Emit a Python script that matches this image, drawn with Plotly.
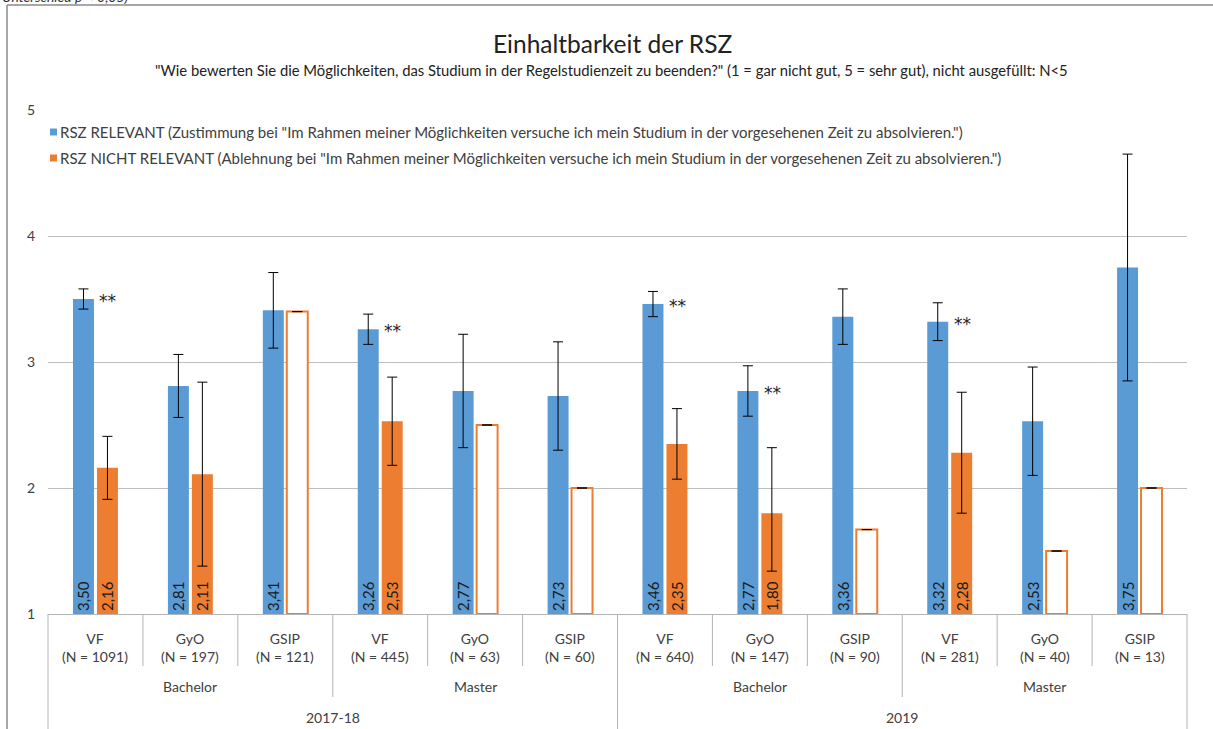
import plotly.graph_objects as go

# ---------------- data ----------------
categories = ["VF", "GyO", "GSIP"] * 4
n_labels = ["(N = 1091)", "(N = 197)", "(N = 121)", "(N = 445)", "(N = 63)", "(N = 60)",
            "(N = 640)", "(N = 147)", "(N = 90)", "(N = 281)", "(N = 40)", "(N = 13)"]
levels = ["Bachelor", "Master", "Bachelor", "Master"]
years = ["2017-18", "2019"]

relevant = [3.50, 2.81, 3.41, 3.26, 2.77, 2.73, 3.46, 2.77, 3.36, 3.32, 2.53, 3.75]
relevant_err = [0.08, 0.25, 0.30, 0.12, 0.45, 0.43, 0.10, 0.20, 0.22, 0.15, 0.43, 0.90]
not_relevant = [2.16, 2.11, 3.40, 2.53, 2.50, 2.00, 2.35, 1.80, 1.67, 2.28, 1.50, 2.00]
not_relevant_err_plus = [0.25, 0.73, 0, 0.35, 0, 0, 0.28, 0.52, 0, 0.48, 0, 0]
not_relevant_err_minus = [0.25, 0.73, 0, 0.35, 0, 0, 0.28, 0.46, 0, 0.48, 0, 0]
not_filled = [False, False, True, False, True, True, False, False, True, False, True, True]
significance = ["**", "", "", "**", "", "", "**", "**", "", "**", "", ""]

series_names = [
    'RSZ RELEVANT (Zustimmung bei "Im Rahmen meiner Möglichkeiten versuche ich mein Studium in der vorgesehenen Zeit zu absolvieren.")',
    'RSZ NICHT RELEVANT (Ablehnung bei "Im Rahmen meiner Möglichkeiten versuche ich mein Studium in der vorgesehenen Zeit zu absolvieren.")',
]
title = "Einhaltbarkeit der RSZ"
subtitle = '"Wie bewerten Sie die Möglichkeiten, das Studium in der Regelstudienzeit zu beenden?" (1 = gar nicht gut, 5 = sehr gut), nicht ausgefüllt: N<5'
top_note = "Unterschied p < 0,05)"
y_min, y_max = 1, 5

# ---------------- styling ----------------
BLUE = "#5B9BD5"
ORANGE = "#ED7D31"
TXT = "#404040"
FONT = "Lato, 'Open Sans', sans-serif"
W, H = 1213, 729
PL, PR, PT, PB = 48, 1187, 110, 614


def px_x(p):
    return (p - PL) / (PR - PL)


def px_y(p):
    return (PB - p) / (PB - PT)


def fmt(v):
    return f"{v:.2f}".replace(".", ",")


xs = list(range(len(categories)))

fig = go.Figure()
fig.add_trace(go.Bar(
    x=xs, y=[v - y_min for v in relevant], base=y_min,
    name=series_names[0],
    marker=dict(color=BLUE, line=dict(width=0)),
    text=[fmt(v) for v in relevant],
    textposition="inside", insidetextanchor="start", textangle=-90,
    insidetextfont=dict(size=15, color="#1a1a1a", family=FONT),
    error_y=dict(type="data", array=relevant_err, color="black", thickness=1, width=5),
    showlegend=False,
))
fig.add_trace(go.Bar(
    x=xs, y=[v - y_min for v in not_relevant], base=y_min,
    name=series_names[1],
    marker=dict(color=["white" if h else ORANGE for h in not_filled],
                line=dict(color=ORANGE, width=[2 if h else 0 for h in not_filled])),
    text=["" if h else fmt(v) for v, h in zip(not_relevant, not_filled)],
    textposition="inside", insidetextanchor="start", textangle=-90,
    insidetextfont=dict(size=15, color="#1a1a1a", family=FONT),
    error_y=dict(type="data", symmetric=False, array=not_relevant_err_plus,
                 arrayminus=not_relevant_err_minus, color="black", thickness=1, width=5),
    showlegend=False,
))

annotations = []
shapes = []

# significance markers
for i, (s, v) in enumerate(zip(significance, relevant)):
    if s:
        annotations.append(dict(x=i + 0.02, y=v, xref="x", yref="y", text=s,
                                showarrow=False, xanchor="left", yanchor="middle", yshift=-2,
                                font=dict(size=17, color="#222", family="DejaVu Sans")))

# category labels
for i, (c, n) in enumerate(zip(categories, n_labels)):
    annotations.append(dict(x=i, y=px_y(647), xref="x", yref="paper", text=f"{c}<br>{n}",
                            showarrow=False, xanchor="center", yanchor="middle",
                            font=dict(size=14, color=TXT, family=FONT)))
for j, lv in enumerate(levels):
    annotations.append(dict(x=3 * j + 1, y=px_y(686), xref="x", yref="paper", text=lv,
                            showarrow=False, xanchor="center", yanchor="middle",
                            font=dict(size=14, color=TXT, family=FONT)))
for k, yr in enumerate(years):
    annotations.append(dict(x=6 * k + 2.5, y=px_y(717), xref="x", yref="paper", text=yr,
                            showarrow=False, xanchor="center", yanchor="middle",
                            font=dict(size=14, color=TXT, family=FONT)))

# separators of the hierarchical axis
n = len(categories)
for b in range(n + 1):
    xb = b / n
    if b % 6 == 0:
        bottom = H + 5
    elif b % 3 == 0:
        bottom = 697
    else:
        bottom = 666
    shapes.append(dict(type="line", xref="paper", yref="paper", x0=xb, x1=xb,
                       y0=px_y(PB), y1=px_y(bottom), line=dict(color="#b4b4b4", width=1)))

# legend (drawn)
for r, (name, col) in enumerate(zip(series_names, [BLUE, ORANGE])):
    cy = 132 + 26 * r
    shapes.append(dict(type="rect", xref="paper", yref="paper",
                       x0=px_x(50), x1=px_x(57), y0=px_y(cy - 3.5), y1=px_y(cy + 3.5),
                       fillcolor=col, line=dict(width=0)))
    annotations.append(dict(x=px_x(58), y=px_y(cy), xref="paper", yref="paper", text=name,
                            showarrow=False, xanchor="left", yanchor="middle",
                            font=dict(size=15, color=TXT, family=FONT)))

# title & subtitle
annotations.append(dict(x=px_x(612), y=px_y(43), xref="paper", yref="paper", text=title,
                        showarrow=False, xanchor="center", yanchor="middle",
                        font=dict(size=24.5, color="#222", family=FONT)))
annotations.append(dict(x=px_x(611), y=px_y(70), xref="paper", yref="paper", text=subtitle,
                        showarrow=False, xanchor="center", yanchor="middle",
                        font=dict(size=14.8, color="#222", family=FONT)))
annotations.append(dict(x=px_x(0), y=px_y(-3), xref="paper", yref="paper", text=f"<i>{top_note}</i>",
                        showarrow=False, xanchor="left", yanchor="middle",
                        font=dict(size=14, color="#333", family=FONT)))

# outer frame (left and top edges)
shapes.append(dict(type="line", xref="paper", yref="paper", x0=px_x(7), x1=px_x(7),
                   y0=px_y(5), y1=px_y(H + 5), line=dict(color="#8a8a8a", width=1.5)))
shapes.append(dict(type="line", xref="paper", yref="paper", x0=px_x(7), x1=px_x(W + 5),
                   y0=px_y(5), y1=px_y(5), line=dict(color="#8a8a8a", width=1.5)))

fig.update_layout(
    width=W, height=H,
    margin=dict(l=PL, r=W - PR, t=PT, b=H - PB, pad=0),
    paper_bgcolor="white", plot_bgcolor="white",
    barmode="group", bargap=0.495, bargroupgap=0.125,
    uniformtext=dict(minsize=15, mode="show"),
    font=dict(family=FONT, color=TXT, size=14),
    annotations=annotations, shapes=shapes,
    xaxis=dict(range=[-0.5, n - 0.5], showticklabels=False, showgrid=False, zeroline=False,
               showline=True, linecolor="#b4b4b4", linewidth=1, ticks=""),
    yaxis=dict(range=[y_min, y_max], dtick=1, showgrid=True, gridcolor="#bdbdbd", gridwidth=1,
               zeroline=False, showline=False, ticks="", ticklabelstandoff=12,
               tickfont=dict(size=14, color=TXT, family=FONT)),
)

fig.write_html("out.html",
               config={"displayModeBar": False},
               post_script="document.body.style.margin='0px';document.body.style.overflow='hidden';")
